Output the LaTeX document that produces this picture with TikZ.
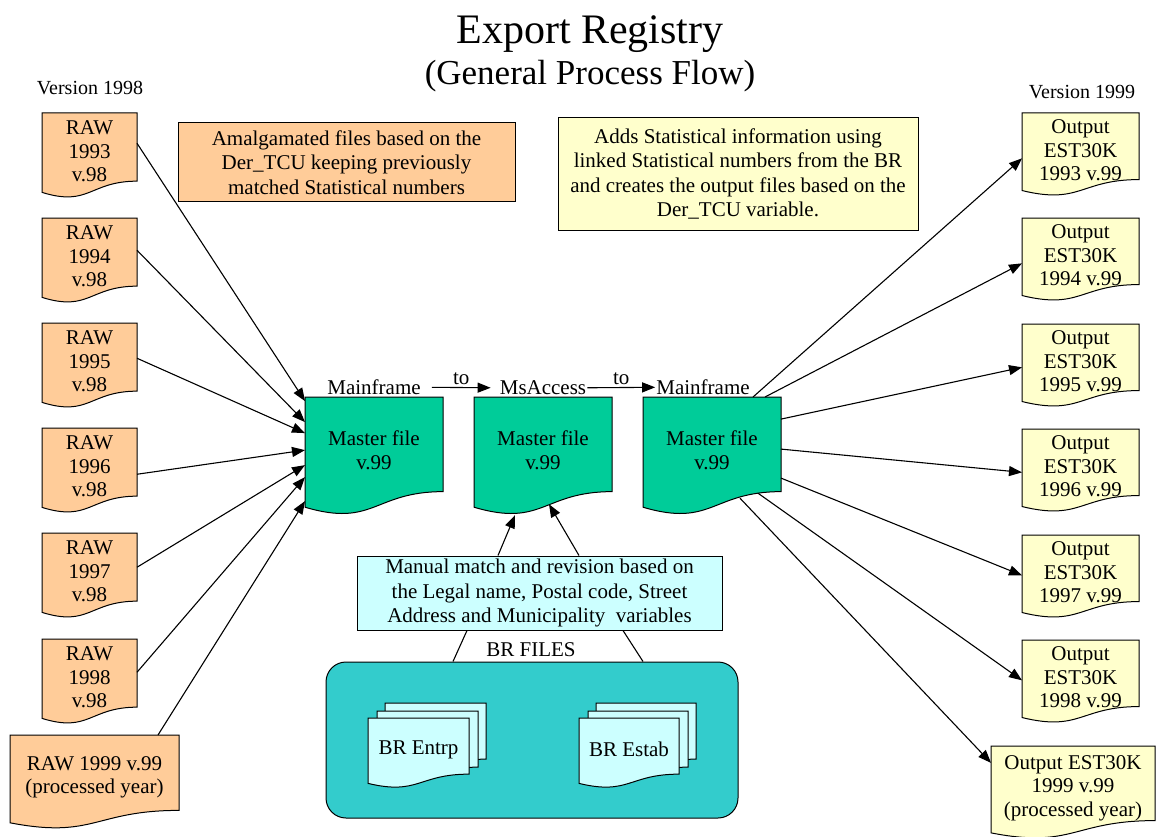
\documentclass[tikz,border=0pt]{standalone}
\usepackage{fontspec}
\setmainfont{Liberation Serif}
\usetikzlibrary{arrows.meta,positioning}

\definecolor{rawfill}{HTML}{FFCC99}
\definecolor{masterfill}{HTML}{00CC99}
\definecolor{outfill}{HTML}{FFFFCC}
\definecolor{matchfill}{HTML}{CCFFFF}
\definecolor{brfill}{HTML}{33CCCC}

% document shape: name, left, top, width, height, fill, text
\newcommand{\docnode}[7]{%
  \draw[docline,fill=#6] (#2,#3) -- ({#2+#4},#3) -- ({#2+#4},{#3+0.802*#5})
    .. controls ({#2+0.5*#4},{#3+0.802*#5}) and ({#2+0.5*#4},{#3+1.1075*#5})
    .. (#2,{#3+0.934*#5}) -- cycle;
  \node[docbox,minimum width=#4pt,minimum height={0.9*#5pt}] (#1)
    at ({#2+0.5*#4},{#3+0.45*#5}) {#7};
}

\begin{document}
\begin{tikzpicture}[x=1pt,y=-1pt]

\def\rawx{42}
\def\raww{95}
\def\outx{1022}
\def\outw{117}
\def\docw{138}
\def\doch{118}

\tikzset{
    docline/.style={draw,line width=1pt},
    docbox/.style={
        draw=none,
        inner sep=0pt,
        outer sep=0pt,
        align=center,
        font=\fontsize{21}{23.5}\selectfont
    },
    notebox/.style={
        draw,
        line width=1pt,
        inner sep=0pt,
        align=center,
        font=\fontsize{21}{24.5}\selectfont
    },
    lbl/.style={inner sep=1pt,font=\fontsize{21}{24}\selectfont},
    conn/.style={-{Triangle[length=13pt,width=10pt]},line width=1.1pt},
    link/.style={line width=1.1pt}
}

\useasboundingbox (0,0) rectangle (1156,837);

% Title
\node[align=center] (title) at (590,54)
    {\fontsize{42}{42}\selectfont Export Registry\\[7pt]
     \fontsize{35}{42}\selectfont (General Process Flow)};

\node[lbl,font=\fontsize{20}{24}\selectfont] (v98) at (90,88) {Version 1998};
\node[lbl,font=\fontsize{20}{24}\selectfont] (v99) at (1082,92) {Version 1999};

% Left column: raw files
\foreach \yr/\ytop [count=\i] in {1993/113,1994/218,1995/323,1996/428,1997/533,1998/639}{
    \docnode{raw\i}{\rawx}{\ytop}{\raww}{85}{rawfill}{RAW\\\yr\\v.98}
}
\docnode{raw7}{10}{735}{169}{94}{rawfill}{RAW 1999 v.99\\(processed year)}

% Right column: output files
\foreach \yr/\ytop [count=\i] in {1993/113,1994/218,1995/324,1996/429,1997/535,1998/640}{
    \docnode{out\i}{\outx}{\ytop}{\outw}{83}{outfill}{Output\\EST30K\\\yr{} v.99}
}
\docnode{out7}{991}{746}{164}{93}{outfill}{Output EST30K\\1999 v.99\\(processed year)}

% Master files
\docnode{mf1}{305}{397}{\docw}{\doch}{masterfill}{Master file\\v.99}
\docnode{mf2}{474}{397}{\docw}{\doch}{masterfill}{Master file\\v.99}
\docnode{mf3}{643}{397}{\docw}{\doch}{masterfill}{Master file\\v.99}

\node[lbl,above=1pt of mf1] (lmf1) {Mainframe};
\node[lbl,above=1pt of mf2] (lacc) {MsAccess};
\node[lbl,above=1pt of mf3,xshift=-9pt] (lmf3) {Mainframe};

\draw[conn] ([xshift=10pt]lmf1.east) -- node[above=2pt,lbl,inner sep=0pt] {to} ([xshift=-8pt]lacc.west);
\draw[conn] (lacc.east) -- node[above=2pt,lbl,inner sep=0pt] {to} (lmf3.west);

% Notes
\node[notebox,fill=rawfill,minimum width=337pt,minimum height=79pt] (amalg) at (346.5,162.5)
    {Amalgamated files based on the\\Der\_TCU keeping previously\\matched Statistical numbers};
\node[notebox,fill=outfill,minimum width=360pt,minimum height=112pt] (stat) at (738,174)
    {Adds Statistical information using\\linked Statistical numbers from the BR\\and creates the output files based on the\\Der\_TCU variable.};
\node[notebox,fill=matchfill,minimum width=365pt,minimum height=74pt] (match) at (539.5,593)
    {Manual match and revision based on\\the Legal name, Postal code, Street\\Address and Municipality\ \ variables};

% BR files
\node[draw,line width=1pt,fill=brfill,rounded corners=20pt,
    minimum width=412pt,minimum height=156pt] (brfiles) at (532,740) {};
\node[lbl] (brlbl) at (531,650) {BR FILES};

\docnode{entrp3}{385}{703}{101}{70}{matchfill}{}
\docnode{entrp2}{377}{711}{101}{70}{matchfill}{}
\docnode{entrp}{368}{718}{101}{70}{matchfill}{BR Entrp}
\docnode{estab3}{596}{703}{100}{70}{matchfill}{}
\docnode{estab2}{588}{711}{100}{70}{matchfill}{}
\docnode{estab}{579}{718}{100}{70}{matchfill}{BR Estab}

\draw[link] ([xshift=-72.5pt]match.south) -- ([xshift=-79pt]brfiles.north);
\draw[link] ([xshift=83.5pt]match.south) -- ([xshift=111pt]brfiles.north);

\draw[conn] ([xshift=-41.5pt]match.north) -- ([xshift=-28pt,yshift=-12pt]mf2.south);
\draw[conn] ([xshift=39.5pt]match.north) -- ([xshift=6pt,yshift=-1pt]mf2.south);

% Raw files into the first master file
\foreach \i/\sy/\ty in {1/8/49,2/6/28,3/3/17,4/-8/0,5/4/-15,6/5/-27}{
    \draw[conn] ([yshift=\sy pt]raw\i.east) -- ([yshift=\ty pt]mf1.west);
}
\draw[conn] ([xshift=63.5pt]raw7.north) -- ([yshift=-51pt]mf1.west);

% Last master file out to the outputs
\draw[conn] ([xshift=41pt]mf3.north) -- ([yshift=-8pt]out1.west);
\draw[conn] ([xshift=53pt]mf3.north) -- ([yshift=-8pt]out2.west);
\draw[conn] ([yshift=31pt]mf3.east) -- ([yshift=-6pt]out3.west);
\draw[conn] ([yshift=1pt]mf3.east) -- ([yshift=-6pt]out4.west);
\draw[conn] ([yshift=-28pt]mf3.east) -- ([yshift=-3pt]out5.west);
\draw[conn] ([xshift=46pt,yshift=10pt]mf3.south) -- ([yshift=-3pt]out6.west);
\draw[conn] ([xshift=28pt,yshift=5pt]mf3.south) -- ([yshift=25pt]out7.west);

\end{tikzpicture}
\end{document}
